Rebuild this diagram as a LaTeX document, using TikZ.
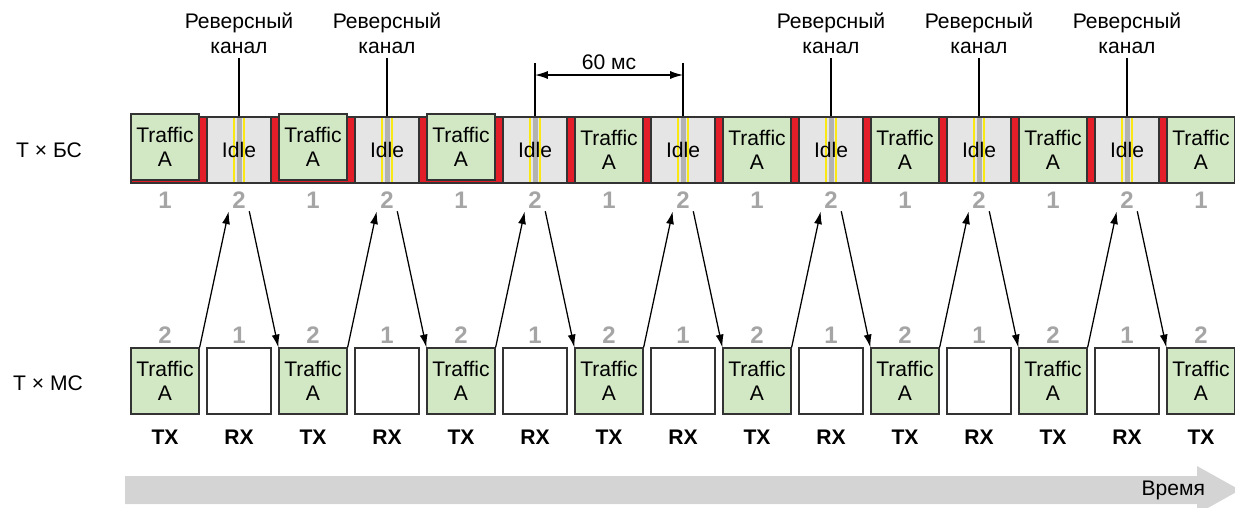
\documentclass[tikz,border=0pt]{standalone}
\usepackage{fontspec}
\setmainfont{Liberation Sans}
\usetikzlibrary{arrows.meta}
\definecolor{trafficgreen}{RGB}{210,232,196}
\definecolor{idlegray}{RGB}{229,229,229}
\definecolor{barred}{RGB}{228,30,40}
\definecolor{numgray}{RGB}{165,165,165}
\definecolor{stripegray}{RGB}{178,178,178}
\definecolor{stripeyellow}{RGB}{250,232,20}
\definecolor{timegray}{RGB}{212,212,212}

\begin{document}
\begin{tikzpicture}[x=0.025cm, y=-0.025cm,
    box/.style={draw=black!80, line width=0.9pt, minimum width=1.7cm, minimum height=1.65cm,
        inner sep=0pt, align=center, font=\fontsize{15}{17}\selectfont},
    traffic/.style={box, fill=trafficgreen},
    idle/.style={box, fill=idlegray, minimum width=1.6cm, path picture={
        \draw[stripegray, line width=0.125cm] (path picture bounding box.north) -- (path picture bounding box.south);
        \draw[stripeyellow, line width=1.5pt] ([xshift=-0.12cm]path picture bounding box.north) -- ([xshift=-0.12cm]path picture bounding box.south);
        \draw[stripeyellow, line width=1.5pt] ([xshift=0.12cm]path picture bounding box.north) -- ([xshift=0.12cm]path picture bounding box.south);}},
    rx/.style={box, fill=white, minimum width=1.6cm},
    num/.style={text=numgray, font=\fontsize{17}{18}\selectfont\bfseries, minimum width=0.5cm,
        minimum height=0.55cm, inner sep=0pt},
    txrx/.style={font=\fontsize{15}{17}\selectfont\bfseries},
    lbl/.style={font=\fontsize{15}{17.8}\selectfont, align=center},
    conn/.style={line width=0.9pt, -{Latex[length=3.2mm, width=2mm]}}]
    \clip (0,0) rectangle (1235,507);
    \node[lbl] (bs) at (49,150) {T × БС};
    \node[lbl] (ms) at (48,383) {T × МС};
    \filldraw[fill=barred, draw=black!80, line width=0.9pt] (131,117) rectangle (1240,183);
    \foreach \k in {0,...,7}{
        \pgfmathsetmacro\tx{165+148*\k}
        \ifnum\k<3
            \node[traffic] (bsT\k) at (\tx,147) {Traffic\\A};
        \else
            \node[traffic] (bsT\k) at (\tx,150) {Traffic\\A};
        \fi
        \node[num] (bsA\k) at (\tx,200) {1};
        \node[num] (msA\k) at (\tx,335) {2};
        \node[traffic] (msT\k) at (\tx,381) {Traffic\\A};
        \node[txrx] (tx\k) at (\tx,437) {TX};
    }
    \foreach \k in {0,...,6}{
        \pgfmathsetmacro\tx{165+148*\k}
        \pgfmathtruncatemacro\nk{\k+1}
        \node[idle] (bsI\k) at (\tx+74,150) {Idle};
        \node[num] (bsB\k) at (\tx+74,200) {2};
        \node[num] (msB\k) at (\tx+74,335) {1};
        \node[rx] (msR\k) at (\tx+74,381) {};
        \node[txrx] (rx\k) at (\tx+74,437) {RX};
        \draw[conn] (msT\k.north east) -- (bsB\k.south west);
        \draw[conn] (bsB\k.south east) -- (msT\nk.north west);
    }
    \foreach \k in {0,1,4,5,6}{
        \node[lbl] (rev\k) at (bsI\k.north |- 0,33) {Реверсный\\канал};
        \draw[line width=0.9pt] (rev\k.south) -- (bsI\k.north);
    }
    \draw[line width=0.9pt] (bsI2.north) -- ++(0,-53);
    \draw[line width=0.9pt] (bsI3.north) -- ++(0,-53);
    \draw[line width=0.9pt, {Latex[length=3.2mm, width=2mm]}-{Latex[length=3.2mm, width=2mm]}]
        (bsI2.north |- 0,75) -- (bsI3.north |- 0,75) node[midway, above, lbl] {60 мс};
    \fill[timegray] (125,476) -- (1197,476) -- (1197,466) -- (1240,490) -- (1197,514)
        -- (1197,504) -- (125,504) -- cycle;
    \node[lbl, anchor=east] (time) at (1210,490) {Время};
\end{tikzpicture}
\end{document}
